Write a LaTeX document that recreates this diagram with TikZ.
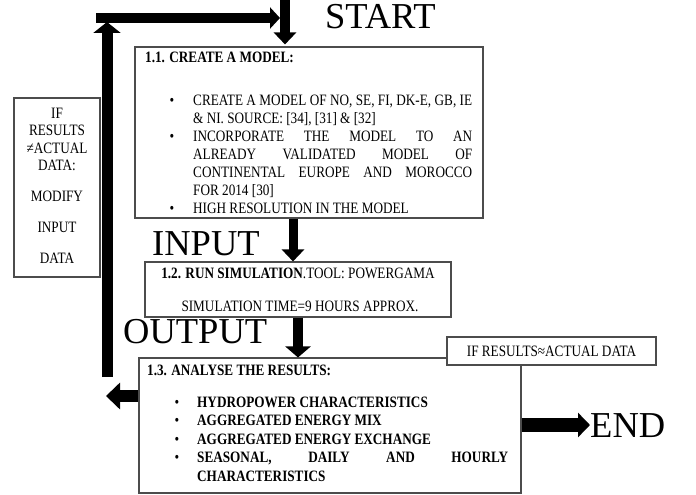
\documentclass[tikz,border=0pt]{standalone}
\usepackage{fontspec}
\setmainfont{Liberation Serif}
\usepackage{graphicx}
\usetikzlibrary{arrows.meta}
\newcommand\vs[1]{\scalebox{1}[1.2]{#1}}
\newcommand\jl[2]{\makebox[#1][s]{#2}}
\begin{document}
\begin{tikzpicture}[x=1pt,y=-1pt,
  box/.style={draw=black!70, line width=1.1pt, inner sep=0pt, fill=white},
  txt/.style={inner sep=0pt, anchor=base west, font=\fontsize{13.2}{15}\selectfont},
  ctxt/.style={txt, anchor=base},
  big/.style={inner sep=0pt, anchor=base west, font=\fontsize{36.5}{40}\selectfont},
  blk/.style n args={3}{draw=black, line width=#1, line cap=butt, -{Triangle[length=#2, width=#3]}}]
\useasboundingbox (0,0) rectangle (696,495);

% boxes
\node[box, minimum width=348pt, minimum height=171pt] (b1) at (309,132.5) {};
\node[box, minimum width=306pt, minimum height=55pt] (b2) at (298,289.5) {};
\node[box, minimum width=382pt, minimum height=135pt] (b3) at (330,425.5) {};
\node[box, minimum width=209pt, minimum height=28pt] (ifb) at (551.5,351) {};
\node[box, minimum width=86pt, minimum height=179pt] (lb) at (57,187.5) {};

% big labels
\node[big] (start) at (325,28.5) {START};
\node[big] (input) at (152,255) {INPUT};
\node[big] (output) at (123,343) {OUTPUT};
\node[big] (end) at (590,437) {END};

% free ends
\coordinate (topL) at (96,18);
\coordinate (topR) at (280,18);
\coordinate (startTop) at (285,0);
\coordinate (upB) at (107,377);
\coordinate (upT) at (107,22);
\coordinate (back) at (106,396);

% arrows
\draw[blk={10pt}{10pt}{21pt}] (topL) -- (topR);
\draw[blk={10pt}{12pt}{22pt}, shorten >=2pt] (startTop) -- (b1.north -| startTop);
\draw[blk={11pt}{11pt}{27pt}] (upB) -- (upT);
\draw[blk={12pt}{14pt}{26pt}] (b3.west |- back) -- (back);
\draw[blk={9pt}{12pt}{22pt}] (b1.south -| 293,0) -- (b2.north -| 293,0);
\draw[blk={10pt}{11pt}{25pt}] (b2.south -| 298,0) -- (b3.north -| 298,0);
\draw[blk={14pt}{12pt}{24pt}] (b3.east |- 0,425) -- (end.west |- 0,425);

% box 1.1 text
\node[txt] (t1) at (145,63) {\vs{\textbf{1.1. CREATE A MODEL:}}};
\node[ctxt] (d1a) at (172,105.5) {\vs{•}};
\node[txt] (t1a) at (193,105.5) {\vs{\jl{279pt}{CREATE A MODEL OF NO, SE, FI, DK-E, GB, IE}}};
\node[txt] (t1b) at (193,123.4) {\vs{\& NI. SOURCE: [34], [31] \& [32]}};
\node[ctxt] (d1c) at (172,141.3) {\vs{•}};
\node[txt] (t1c) at (193,141.3) {\vs{\jl{279pt}{INCORPORATE THE MODEL TO AN}}};
\node[txt] (t1d) at (193,159.2) {\vs{\jl{279pt}{ALREADY VALIDATED MODEL OF}}};
\node[txt] (t1e) at (193,177.1) {\vs{\jl{279pt}{CONTINENTAL EUROPE AND MOROCCO}}};
\node[txt] (t1f) at (193,195) {\vs{FOR 2014 [30]}};
\node[ctxt] (d1g) at (172,213) {\vs{•}};
\node[txt] (t1g) at (193,213) {\vs{HIGH RESOLUTION IN THE MODEL}};

% box 1.2 text
\node[ctxt] (t2a) at (298,278) {\vs{\textbf{1.2. RUN SIMULATION}.TOOL: POWERGAMA}};
\node[ctxt] (t2b) at (300,311) {\vs{SIMULATION TIME=9 HOURS APPROX.}};

% box 1.3 text
\node[txt] (t3) at (147,375.5) {\vs{\textbf{1.3. ANALYSE THE RESULTS:}}};
\node[ctxt] (d3a) at (177,407) {\vs{•}};
\node[txt] (t3a) at (197,407) {\vs{\textbf{HYDROPOWER CHARACTERISTICS}}};
\node[ctxt] (d3b) at (177,425.5) {\vs{•}};
\node[txt] (t3b) at (197,425.5) {\vs{\textbf{AGGREGATED ENERGY MIX}}};
\node[ctxt] (d3c) at (177,444) {\vs{•}};
\node[txt] (t3c) at (197,444) {\vs{\textbf{AGGREGATED ENERGY EXCHANGE}}};
\node[ctxt] (d3d) at (177,462.5) {\vs{•}};
\node[txt] (t3d) at (197,462.5) {\vs{\jl{311pt}{\textbf{SEASONAL, DAILY AND HOURLY}}}};
\node[txt] (t3e) at (197,481) {\vs{\textbf{CHARACTERISTICS}}};

% if box text
\node[ctxt] (tif) at (551.5,356) {\vs{IF RESULTS≈ACTUAL DATA}};

% left box text
\node[ctxt] (l1) at (57,118) {\vs{IF}};
\node[ctxt] (l2) at (57,135.5) {\vs{RESULTS}};
\node[ctxt] (l3) at (57,153) {\vs{≠ACTUAL}};
\node[ctxt] (l4) at (57,170.5) {\vs{DATA:}};
\node[ctxt] (l5) at (57,201) {\vs{MODIFY}};
\node[ctxt] (l6) at (57,232) {\vs{INPUT}};
\node[ctxt] (l7) at (57,263) {\vs{DATA}};
\end{tikzpicture}
\end{document}
